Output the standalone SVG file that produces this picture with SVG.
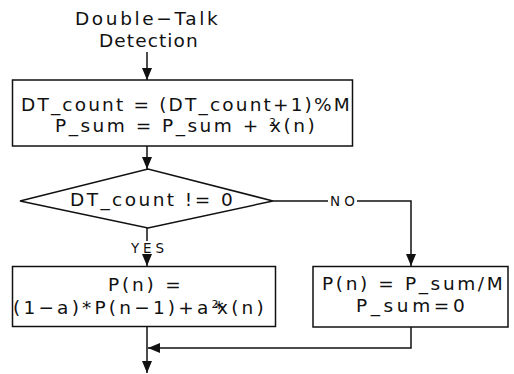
<svg xmlns="http://www.w3.org/2000/svg" width="514" height="374" viewBox="0 0 514 374">
  <style>
    .box { fill: #fff; stroke: #111; stroke-width: 1.5; }
    .wire { fill: none; stroke: #111; stroke-width: 1.5; }
    .t { font-family: "DejaVu Sans", "Liberation Sans", sans-serif; font-size: 18.5px; letter-spacing: 2.3px; fill: #111; }
    .s { font-family: "DejaVu Sans", "Liberation Sans", sans-serif; font-size: 13.5px; fill: #111; }
    .sup { font-size: 11px; letter-spacing: 0; }
  </style>
  <defs>
    <marker id="arrow" viewBox="0 0 12 10" refX="12" refY="5" markerWidth="12" markerHeight="10" markerUnits="userSpaceOnUse" orient="auto">
      <path d="M0,0 L12,5 L0,10 Z" fill="#111"/>
    </marker>
  </defs>
  <rect width="514" height="374" fill="#fff"/>

  <g id="start">
    <text class="t" x="75" y="25" textLength="145">Double−Talk</text>
    <text class="t" x="99" y="47" textLength="101">Detection</text>
  </g>

  <g id="connectors">
    <path class="wire" d="M147,52 V80" marker-end="url(#arrow)"/>
    <path class="wire" d="M147,146 V169" marker-end="url(#arrow)"/>
    <path class="wire" d="M147,228 V241"/>
    <path class="wire" d="M147,255 V266" marker-end="url(#arrow)"/>
    <path class="wire" d="M273,201 H328 M357,201 H411 V266" marker-end="url(#arrow)"/>
    <path class="wire" d="M411,327 V348 H148" marker-end="url(#arrow)"/>
    <path class="wire" d="M147,327 V373" marker-end="url(#arrow)"/>
    <text class="s" x="330" y="206" textLength="25">NO</text>
    <text class="s" x="131" y="253" textLength="33">YES</text>
  </g>

  <g id="update">
    <rect class="box" x="12.5" y="80" width="340" height="66"/>
    <text class="t" x="21" y="111" textLength="331">DT_count = (DT_count+1)%M</text>
    <text class="t" x="55" y="132" style="letter-spacing:2.5px">P_sum = P_sum + <tspan class="sup" dy="-6">2</tspan><tspan dx="-6" dy="6">x(n)</tspan></text>
  </g>

  <g id="decision">
    <polygon class="box" points="20,201 148,169 273,201 148,228"/>
    <text class="t" x="70" y="206" textLength="165">DT_count != 0</text>
  </g>

  <g id="smooth">
    <rect class="box" x="12.5" y="266.5" width="263" height="60"/>
    <text class="t" x="108" y="291" textLength="75">P(n) =</text>
    <text class="t" x="13" y="314" style="letter-spacing:3.2px">(1−a)*P(n−1)+a<tspan class="sup" dy="-6">2</tspan><tspan dx="-4" dy="6">*</tspan><tspan dx="-10">x(n)</tspan></text>
  </g>

  <g id="average">
    <rect class="box" x="313" y="266.5" width="195" height="60.5"/>
    <text class="t" x="322" y="290" textLength="183">P(n) = P_sum/M</text>
    <text class="t" x="356" y="312" textLength="111">P_sum=0</text>
  </g>
</svg>
